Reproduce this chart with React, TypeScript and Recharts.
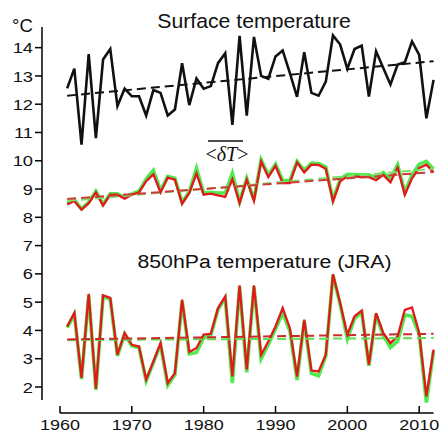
import { LineChart, Line, XAxis, YAxis, ReferenceLine } from "recharts";

const years = [
  1961, 1962, 1963, 1964, 1965, 1966, 1967, 1968, 1969, 1970,
  1971, 1972, 1973, 1974, 1975, 1976, 1977, 1978, 1979, 1980,
  1981, 1982, 1983, 1984, 1985, 1986, 1987, 1988, 1989, 1990,
  1991, 1992, 1993, 1994, 1995, 1996, 1997, 1998, 1999, 2000,
  2001, 2002, 2003, 2004, 2005, 2006, 2007, 2008, 2009, 2010,
  2011, 2012,
];

// surface temperature (black)
const surface = [
  12.56, 13.26, 10.57, 13.77, 10.8, 13.58, 13.95, 11.94, 12.55, 12.28,
  12.28, 11.6, 12.5, 12.4, 11.6, 11.81, 13.45, 11.97, 12.91, 12.55,
  12.64, 13.45, 13.8, 11.27, 14.42, 11.6, 14.38, 13.0, 12.9, 13.69,
  13.9, 13.1, 12.26, 13.84, 12.4, 12.3, 12.8, 14.43, 14.11, 13.25,
  13.95, 14.07, 12.27, 13.87, 13.28, 12.7, 13.4, 13.48, 14.22, 13.74,
  11.5, 12.86,
];
const surfaceTrend = [12.3, 13.52];

// <dT> (green = behind, red = front)
const dtGreen = [
  8.5, 8.62, 8.3, 8.53, 8.92, 8.46, 8.83, 8.83, 8.7, 8.83,
  8.92, 9.35, 9.66, 8.95, 9.45, 9.38, 8.52, 8.9, 9.73, 8.86,
  8.88, 8.86, 8.86, 9.56, 8.55, 9.38, 8.62, 10.03, 9.5, 9.88,
  9.3, 9.3, 9.98, 9.66, 9.92, 9.9, 9.78, 8.62, 9.35, 9.52,
  9.51, 9.5, 9.5, 9.4, 9.58, 9.36, 9.86, 8.88, 9.5, 9.88,
  9.98, 9.7,
];
const dtRed = [
  8.45, 8.58, 8.27, 8.5, 8.88, 8.42, 8.8, 8.8, 8.66, 8.8,
  8.88, 9.28, 9.52, 8.88, 9.4, 9.33, 8.48, 8.86, 9.55, 8.8,
  8.84, 8.78, 8.72, 9.35, 8.5, 9.33, 8.58, 9.97, 9.42, 9.82,
  9.21, 9.21, 9.94, 9.59, 9.86, 9.85, 9.72, 8.56, 9.27, 9.45,
  9.45, 9.42, 9.42, 9.31, 9.5, 9.24, 9.75, 8.8, 9.38, 9.75,
  9.86, 9.59,
];
const dtGreenTrend = [8.58, 9.72];
const dtRedTrend = [8.65, 9.6];

// 850hPa temperature (JRA)
const jraGreen = [
  4.1, 4.57, 2.28, 5.25, 1.9, 5.2, 5.1, 3.1, 3.87, 3.45,
  3.4, 2.22, 2.86, 3.5, 2.06, 2.44, 5.04, 3.17, 3.22, 3.73,
  3.84, 4.74, 5.15, 2.14, 5.55, 2.52, 5.55, 3.0, 3.5, 4.05,
  4.62, 3.98, 2.25, 4.33, 2.48, 2.4, 3.1, 5.95, 4.92, 3.7,
  4.42, 4.65, 2.75, 4.56, 3.82, 3.4, 3.62, 4.55, 4.5, 3.86,
  1.45, 3.28,
];
const jraRed = [
  4.14, 4.62, 2.32, 5.29, 1.94, 5.24, 5.15, 3.14, 3.91, 3.49,
  3.43, 2.26, 2.9, 3.55, 2.14, 2.49, 5.09, 3.24, 3.38, 3.85,
  3.88, 4.79, 5.2, 2.37, 5.59, 2.62, 5.59, 3.14, 3.61, 4.14,
  4.79, 4.08, 2.37, 4.38, 2.58, 2.55, 3.14, 5.99, 4.97, 3.85,
  4.5, 4.7, 2.79, 4.61, 3.91, 3.55, 3.79, 4.73, 4.81, 3.91,
  1.67, 3.32,
];
const jraGreenTrend = [3.66, 3.73];
const jraRedTrend = [3.68, 3.88];

const xTicks = [1960, 1970, 1980, 1990, 2000, 2010];
const yTicks = [2, 3, 4, 5, 6, 7, 8, 9, 10, 11, 12, 13, 14];

const X_MIN = 1957.5;
const X_MAX = 2012.2;
const Y_MIN = 1.08;
const Y_MAX = 14.73;

const last = years.length - 1;
const ends = (t: number[], i: number) => (i === 0 ? t[0] : i === last ? t[1] : null);

const data = years.map((year, i) => ({
  year,
  surface: surface[i],
  dtGreen: dtGreen[i],
  dtRed: dtRed[i],
  jraGreen: jraGreen[i],
  jraRed: jraRed[i],
  surfaceTrend: ends(surfaceTrend, i),
  dtGreenTrend: ends(dtGreenTrend, i),
  dtRedTrend: ends(dtRedTrend, i),
  jraGreenTrend: ends(jraGreenTrend, i),
  jraRedTrend: ends(jraRedTrend, i),
}));

const FONT = "'Liberation Sans', Arial, Helvetica, sans-serif";

const XTick = ({ x, y, payload }: any) => (
  <g transform={`translate(${x},${y})`}>
    <line x1={0} x2={0} y1={-7} y2={0} stroke="#000" strokeWidth={1.5} />
    <text y={17} textAnchor="middle" fontSize={15} fontFamily={FONT} fill="#111" transform="scale(1.2,1)">
      {payload.value}
    </text>
  </g>
);

const YTick = ({ x, y, payload }: any) => (
  <g transform={`translate(${x},${y})`}>
    <text dy="0.36em" textAnchor="end" fontSize={15.5} fontFamily={FONT} fill="#111" transform="scale(1.18,1)">
      {payload.value}
    </text>
  </g>
);

const GREEN = "#3ce83a";
const RED = "#e3171c";

export default function App() {
  return (
    <div style={{ position: "absolute", left: 0, top: 0, width: 441, height: 434, background: "#fff" }}>
      <LineChart width={441} height={434} data={data} margin={{ top: 27, right: 6, bottom: 0, left: 0 }}>
        <XAxis
          dataKey="year"
          type="number"
          domain={[X_MIN, X_MAX]}
          ticks={xTicks}
          allowDataOverflow
          axisLine={false}
          tickLine={false}
          tickSize={0}
          tickMargin={0}
          height={21}
          interval={0}
          tick={<XTick />}
        />
        <YAxis
          type="number"
          domain={[Y_MIN, Y_MAX]}
          ticks={yTicks}
          allowDataOverflow
          axisLine={false}
          tickLine={{ stroke: "#000", strokeWidth: 1.5 }}
          tickSize={7}
          tickMargin={2}
          width={42}
          interval={0}
          tick={<YTick />}
        />
        <ReferenceLine
          segment={[{ x: X_MIN, y: 1.54 }, { x: X_MIN, y: Y_MAX }]}
          stroke="#000"
          strokeWidth={1.5}
          ifOverflow="visible"
        />
        <ReferenceLine
          segment={[{ x: 1960, y: Y_MIN }, { x: 2012, y: Y_MIN }]}
          stroke="#000"
          strokeWidth={1.5}
          ifOverflow="visible"
        />

        <Line dataKey="surface" stroke="#111" strokeWidth={2.6} dot={false} isAnimationActive={false} strokeLinejoin="miter" />
        <Line dataKey="surfaceTrend" stroke="#111" strokeWidth={2} strokeDasharray="9 5" dot={false} connectNulls isAnimationActive={false} />

        <Line dataKey="dtGreen" stroke={GREEN} strokeWidth={3.6} strokeOpacity={0.9} dot={false} isAnimationActive={false} />
        <Line dataKey="dtRed" stroke={RED} strokeWidth={2.3} dot={false} isAnimationActive={false} />
        <Line dataKey="dtGreenTrend" stroke="#7ddf6a" strokeWidth={2} strokeDasharray="9 5" dot={false} connectNulls isAnimationActive={false} />
        <Line dataKey="dtRedTrend" stroke="#cc3a36" strokeWidth={2} strokeDasharray="9 5" dot={false} connectNulls isAnimationActive={false} />

        <Line dataKey="jraGreen" stroke={GREEN} strokeWidth={3.6} strokeOpacity={0.9} dot={false} isAnimationActive={false} />
        <Line dataKey="jraRed" stroke={RED} strokeWidth={2.3} dot={false} isAnimationActive={false} />
        <Line dataKey="jraGreenTrend" stroke="#5fdc4d" strokeWidth={2} strokeDasharray="9 5" dot={false} connectNulls isAnimationActive={false} />
        <Line dataKey="jraRedTrend" stroke="#cc2a2a" strokeWidth={2} strokeDasharray="9 5" dot={false} connectNulls isAnimationActive={false} />
      </LineChart>

      <svg width={441} height={434} style={{ position: "absolute", left: 0, top: 0, pointerEvents: "none" }}>
        <text x={12} y={32} fontSize={18.5} fontFamily={FONT} fill="#111">°C</text>
        <g transform="translate(254,28)">
          <text textAnchor="middle" fontSize={19.5} fontFamily={FONT} fill="#111" transform="scale(1.09,1)">
            Surface temperature
          </text>
        </g>
        <text x={227} y={161} textAnchor="middle" fontSize={20} fontFamily="'Liberation Serif', 'Times New Roman', serif" fill="#111">
          &lt;<tspan fontStyle="italic">δT</tspan>&gt;
        </text>
        <line x1={208} x2={243} y1={141} y2={141} stroke="#111" strokeWidth={1.4} />
        <g transform="translate(264.5,268)">
          <text textAnchor="middle" fontSize={19} fontFamily={FONT} fill="#111" transform="scale(1.12,1)">
            850hPa temperature (JRA)
          </text>
        </g>
      </svg>
    </div>
  );
}
